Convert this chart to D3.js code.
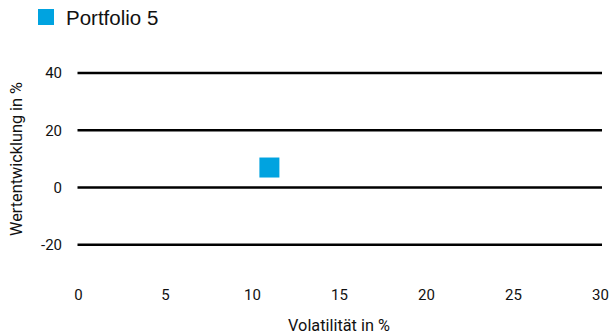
<!DOCTYPE html>
<html>
<head>
<meta charset="utf-8">
<script src="https://cdn.jsdelivr.net/npm/d3@7"></script>
<style>
  html, body { margin: 0; padding: 0; background: #fff; }
  svg { display: block; }
</style>
</head>
<body>
<svg id="chart" width="610" height="336"></svg>
<script>
// Risk/return scatter: one portfolio
const seriesNames = ["Portfolio 5"];
const volatility = [11];   // x, in %
const performance = [7];   // y, in %
const xTicks = [0, 5, 10, 15, 20, 25, 30];
const yTicks = [-20, 0, 20, 40];
const seriesColor = "#00a3e0";

const svg = d3.select("#chart");
const x = d3.scaleLinear().domain([0, 30]).range([78, 600]);
const y = d3.scaleLinear().domain([-30, 40]).range([273.5, 73]);

const tickFont = "Roboto, sans-serif";
const textColor = "#111";

// Horizontal gridlines
svg.append("g").selectAll("line").data(yTicks).join("line")
  .attr("x1", 77.5).attr("x2", 602)
  .attr("y1", d => y(d)).attr("y2", d => y(d))
  .attr("stroke", "#000").attr("stroke-width", 2.5);

// Y axis labels (plain hyphen for negatives)
const yAxis = d3.axisLeft(y).tickValues(yTicks).tickFormat(d => String(d)).tickSize(0).tickPadding(0);
svg.append("g").attr("transform", "translate(62,0)").call(yAxis)
  .call(g => g.select(".domain").remove())
  .call(g => g.selectAll("text").attr("font-family", tickFont).attr("font-size", 15).attr("fill", textColor));

// X axis labels
const xAxis = d3.axisBottom(x).tickValues(xTicks).tickFormat(d => String(d)).tickSize(0).tickPadding(0);
svg.append("g").attr("transform", "translate(0,289)").call(xAxis)
  .call(g => g.select(".domain").remove())
  .call(g => g.selectAll("text").attr("font-family", tickFont).attr("font-size", 15).attr("fill", textColor));

// Axis titles
svg.append("text").attr("x", 339).attr("y", 330.5).attr("text-anchor", "middle")
  .attr("font-family", tickFont).attr("font-size", 16.3).attr("fill", textColor)
  .text("Volatilität in %");
svg.append("text").attr("transform", "translate(21.5,159) rotate(-90)").attr("text-anchor", "middle")
  .attr("font-family", tickFont).attr("font-size", 16.3).attr("fill", textColor)
  .text("Wertentwicklung in %");

// Points
const size = 20;
svg.append("g").selectAll("rect").data(volatility.map((v, i) => ({ x: v, y: performance[i] }))).join("rect")
  .attr("x", d => x(d.x) - size / 2).attr("y", d => y(d.y) - size / 2)
  .attr("width", size).attr("height", size)
  .attr("fill", seriesColor);

// Legend
const legend = svg.append("g").attr("transform", "translate(38,9)");
legend.append("rect").attr("width", 16).attr("height", 16).attr("fill", seriesColor);
legend.append("text").attr("x", 28).attr("y", 15.5)
  .attr("font-family", "'Liberation Sans', Arial, sans-serif").attr("font-size", 20.5).attr("fill", "#111")
  .text(seriesNames[0]);
</script>
</body>
</html>
